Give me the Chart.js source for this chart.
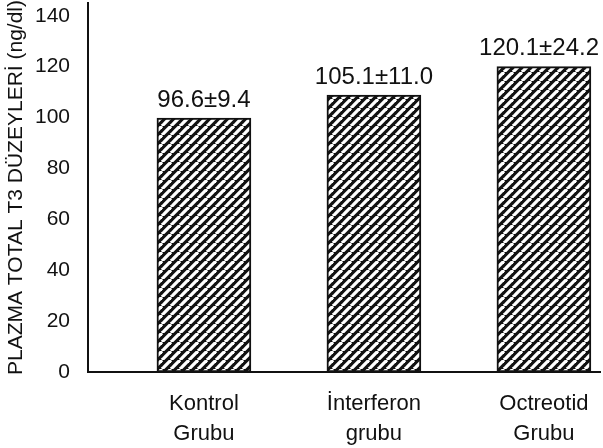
<!DOCTYPE html>
<html>
<head>
<meta charset="utf-8">
<script src="https://cdn.jsdelivr.net/npm/chart.js@4.4.1/dist/chart.umd.min.js"></script>
<style>
  html, body { margin: 0; padding: 0; background: #fff; }
  #wrap { width: 603px; height: 448px; }
</style>
</head>
<body>
<div id="wrap"><canvas id="t3Chart" width="603" height="448"></canvas></div>
<script>
// Plasma total T3 levels per group
const groups = [['Kontrol', 'Grubu'], ['İnterferon', 'grubu'], ['Octreotid', 'Grubu']];
const barHeights = [99.8, 108.8, 120.0];   // heights as drawn in the figure
const valueLabels = ['96.6±9.4', '105.1±11.0', '120.1±24.2'];
const yTitle = 'PLAZMA TOTAL T3 DÜZEYLERİ (ng/dl)';

const FONT = "'Liberation Sans', Arial, Helvetica, sans-serif";

// black bars with white "/" stripes
function hatch() {
  const s = 9;
  const c = document.createElement('canvas');
  c.width = s; c.height = s;
  const g = c.getContext('2d');
  g.fillStyle = '#111';
  g.fillRect(0, 0, s, s);
  g.strokeStyle = '#fff';
  g.lineWidth = 3.3;
  for (let k = -1; k <= 1; k++) {
    g.beginPath();
    g.moveTo(k * s, s);
    g.lineTo(k * s + s, 0);
    g.stroke();
  }
  return g.createPattern(c, 'repeat');
}

// value text above each bar
const valuePlugin = {
  id: 'valueText',
  afterDatasetsDraw(chart) {
    const ctx = chart.ctx;
    const meta = chart.getDatasetMeta(0);
    ctx.save();
    ctx.font = '24px ' + FONT;
    ctx.fillStyle = '#111';
    ctx.textAlign = 'center';
    ctx.textBaseline = 'bottom';
    meta.data.forEach((bar, i) => {
      const w = ctx.measureText(valueLabels[i]).width;
      const x = Math.min(bar.x, chart.width - 4 - w / 2);
      ctx.fillText(valueLabels[i], x, bar.y - 6);
    });
    ctx.restore();
  }
};

const ctx = document.getElementById('t3Chart');

new Chart(ctx, {
  type: 'bar',
  data: {
    datasets: [{
      data: barHeights.map((v, i) => ({ x: i, y: v })),
      backgroundColor: hatch(),
      borderColor: '#111',
      borderWidth: 2,
      borderSkipped: false,
      barThickness: 94
    }]
  },
  options: {
    responsive: false,
    animation: false,
    layout: { padding: { left: 2, right: 3, top: 3, bottom: 0 } },
    plugins: {
      legend: { display: false },
      tooltip: { enabled: false }
    },
    scales: {
      x: {
        type: 'linear',
        offset: false,
        min: -0.682,
        max: 2.33,
        grid: { display: false },
        border: { color: '#111', width: 2 },
        afterFit: (s) => { s.height = 76; s.paddingLeft = 0; s.paddingRight = 0; },
        ticks: {
          stepSize: 1,
          includeBounds: false,
          autoSkip: false,
          maxRotation: 0,
          padding: 9,
          color: '#111',
          font: { family: FONT, size: 22, lineHeight: 1.35 },
          callback: (v) => Number.isInteger(v) && groups[v] ? groups[v] : ''
        }
      },
      y: {
        min: 0,
        max: 145,
        grid: { display: false },
        border: { color: '#111', width: 2 },
        afterFit: (s) => { s.width = 86; s.paddingTop = 0; s.paddingBottom = 0; },
        ticks: {
          stepSize: 20,
          includeBounds: false,
          padding: 10,
          color: '#111',
          font: { family: FONT, size: 21 }
        },
        title: {
          display: true,
          text: yTitle,
          color: '#111',
          padding: { top: 2, bottom: 0 },
          font: { family: FONT, size: 21 }
        }
      }
    }
  },
  plugins: [valuePlugin]
});
</script>
</body>
</html>
